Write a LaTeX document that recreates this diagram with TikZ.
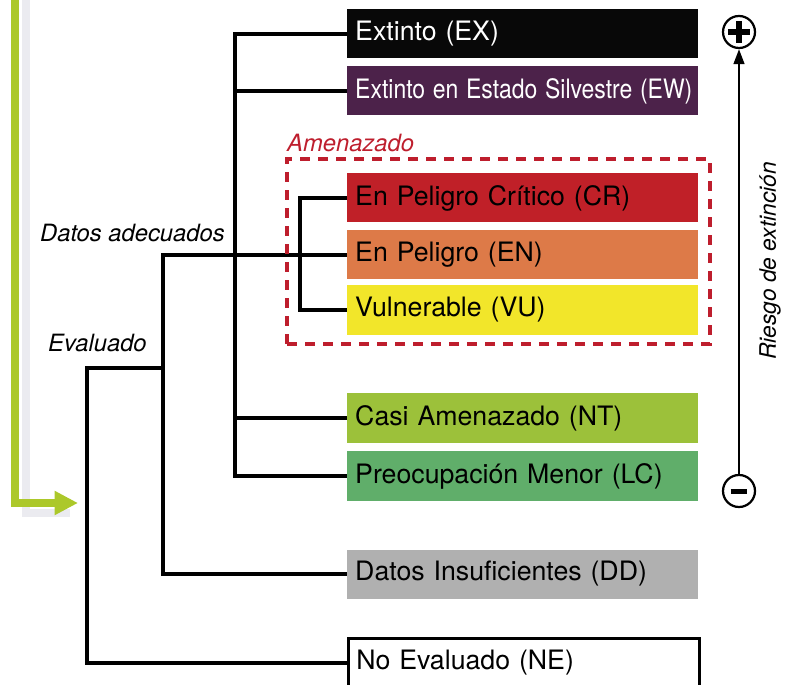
\documentclass[tikz,border=0pt]{standalone}
\usepackage{fontspec}
\setsansfont{TeX Gyre Heros}
\renewcommand{\familydefault}{\sfdefault}
\usetikzlibrary{arrows.meta,positioning,fit}

\definecolor{exblack}{RGB}{8,8,8}
\definecolor{ewpurple}{RGB}{76,34,74}
\definecolor{crred}{RGB}{192,32,40}
\definecolor{enorange}{RGB}{221,122,72}
\definecolor{vuyellow}{RGB}{242,230,42}
\definecolor{ntgreen}{RGB}{156,193,58}
\definecolor{lcgreen}{RGB}{96,174,106}
\definecolor{ddgray}{RGB}{176,176,176}
\definecolor{threatred}{RGB}{190,30,45}
\definecolor{flowgreen}{RGB}{172,200,42}
\definecolor{flowshade}{RGB}{205,205,218}

\begin{document}
\begin{tikzpicture}[
  x=0.03cm, y=-0.03cm,
  catbox/.style={rectangle,anchor=west,text width=10.05cm,inner xsep=0.24cm,
                 inner ysep=0pt,minimum height=1.47cm,align=left,
                 font=\fontsize{22.8}{26}\selectfont},
  tag/.style={font=\fontsize{20.3}{24}\selectfont\itshape,inner sep=0pt},
  link/.style={line width=2.6pt},
  threat/.style={draw=threatred,line width=3pt,dash pattern=on 0.3cm off 0.24cm},
  sign/.style={draw,circle,line width=1.9pt,minimum size=0.96cm,inner sep=0pt},
  risk/.style={-{Triangle[length=0.45cm,width=0.32cm]},line width=2pt},
  flow/.style={line width=0.22cm,draw=flowgreen,-{Triangle[length=0.7cm,width=0.68cm]}}
]
\useasboundingbox (0,0) rectangle (788,685);

% green flow arrow
\coordinate (flowtop) at (15,-10);
\coordinate (flowend) at (78,503);
\draw[line width=0.24cm,draw=flowshade,opacity=0.4] (26,-10) |- (70,513);
\draw[flow] (flowtop) |- (flowend);

% categories
\node[catbox,fill=exblack,text=white] (ex) at (347,34) {Extinto (EX)};
\node[catbox,fill=ewpurple,text=white] (ew) at (347,91)
 {\scalebox{0.86}[1]{Extinto en Estado Silvestre (EW)}};
\node[catbox,fill=crred] (cr) at (347,198) {En Peligro Crítico (CR)};
\node[catbox,fill=enorange] (en) at (347,255) {En Peligro (EN)};
\node[catbox,fill=vuyellow] (vu) at (347,310) {Vulnerable (VU)};
\node[catbox,fill=ntgreen] (nt) at (347,418) {Casi Amenazado (NT)};
\node[catbox,fill=lcgreen] (lc) at (347,476) {Preocupación Menor (LC)};
\node[catbox,fill=ddgray] (dd) at (347,574) {Datos Insuficientes (DD)};
\node[catbox,draw,line width=2.2pt,fill=white] (ne) at (347,663) {No Evaluado (NE)};

% tree
\coordinate (adq) at (235,255);
\coordinate (amz) at (300,255);
\coordinate (eval) at (163,255);
\coordinate (root) at (87,368);
\draw[link] (ex.west) -| (adq |- lc.west) -- (lc.west);
\draw[link] (ew.west) -- (adq |- ew.west);
\draw[link] (nt.west) -- (adq |- nt.west);
\draw[link] (cr.west) -| (amz |- vu.west) -- (vu.west);
\draw[link] (en.west) -| (eval |- dd.west) -- (dd.west);
\draw[link] (eval |- root) -- (root) |- (ne.west);

\node[threat,fit={(287,159) (710,344)},inner sep=0pt] (amzbox) {};
\node[tag,anchor=west,text=threatred] (amzlbl) at (287,143) {Amenazado};
\node[tag,anchor=east] (adqlbl) at (225,233) {Datos adecuados};
\node[tag,anchor=west] (evallbl) at (48,343) {Evaluado};

% extinction risk scale
\node[sign] (plus) at (739,32) {};
\node[sign] (minus) at (739,491) {};
\draw[line width=0.18cm] ([xshift=-0.33cm]plus.center) -- ([xshift=0.33cm]plus.center);
\draw[line width=0.18cm] ([yshift=-0.33cm]plus.center) -- ([yshift=0.33cm]plus.center);
\draw[line width=0.15cm] ([xshift=-0.25cm]minus.center) -- ([xshift=0.25cm]minus.center);
\draw[risk] (minus) -- (plus);
\node[tag,rotate=90,font=\fontsize{19.4}{23}\selectfont\itshape] (risklbl) at (770,261)
 {Riesgo de extinción};
\end{tikzpicture}
\end{document}
